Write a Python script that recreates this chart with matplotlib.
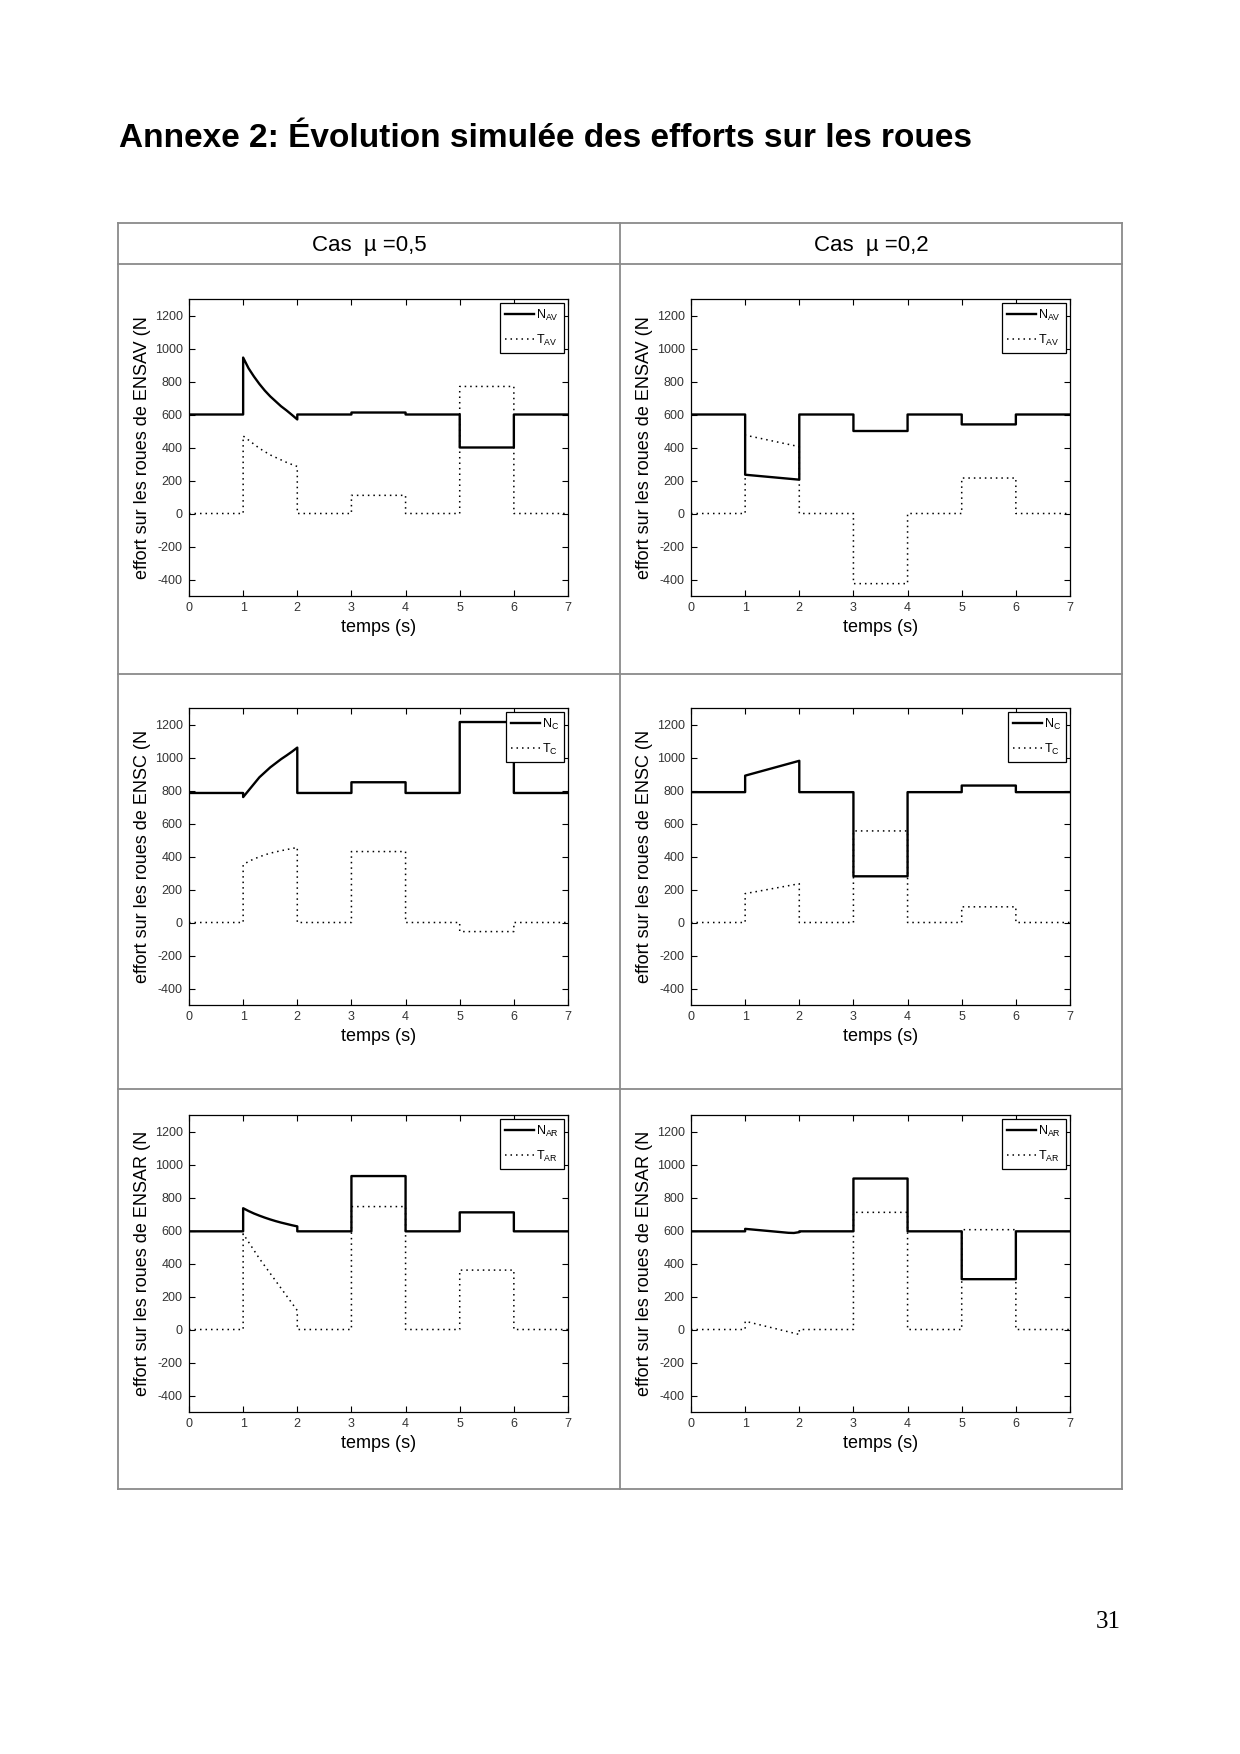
import matplotlib
matplotlib.use("Agg")
import matplotlib.pyplot as plt
from matplotlib.lines import Line2D

plt.rcParams['font.family'] = ['Liberation Sans', 'DejaVu Sans']
plt.rcParams['axes.unicode_minus'] = False

# time samples used for the transient between t=1 s and t=2 s
t_curve = [1.0, 1.1, 1.2, 1.3, 1.4, 1.5, 1.6, 1.7, 1.8, 1.9, 2.0]

# --- mu = 0,5 ---
nav_05_steps = [600, None, 600, 612, 600, 400, 600]
nav_05_curve = [945, 880, 830, 785, 745, 710, 680, 650, 625, 598, 570]
tav_05_steps = [0, None, 0, 110, 0, 770, 0]
tav_05_curve = [470, 445, 420, 395, 375, 355, 340, 325, 310, 297, 285]

nc_05_steps = [785, None, 785, 850, 785, 1215, 785]
nc_05_curve = [760, 800, 840, 880, 910, 940, 965, 990, 1012, 1035, 1060]
tc_05_steps = [0, None, 0, 430, 0, -55, 0]
tc_05_curve = [350, 370, 385, 398, 410, 420, 428, 435, 442, 448, 455]

nar_05_steps = [595, None, 595, 930, 595, 710, 595]
nar_05_curve = [735, 718, 703, 690, 678, 667, 657, 648, 640, 632, 625]
tar_05_steps = [0, None, 0, 745, 0, 360, 0]
tar_05_curve = [580, 530, 480, 430, 385, 340, 295, 250, 205, 160, 115]

# --- mu = 0,2 ---
nav_02_steps = [600, None, 600, 500, 600, 540, 600]
nav_02_curve = [235, 232, 229, 226, 223, 220, 217, 214, 211, 208, 205]
tav_02_steps = [0, None, 0, -425, 0, 215, 0]
tav_02_curve = [475, 468, 461, 454, 447, 440, 433, 426, 419, 412, 405]

nc_02_steps = [790, None, 790, 280, 790, 830, 790]
nc_02_curve = [890, 899, 908, 917, 926, 935, 944, 953, 962, 971, 980]
tc_02_steps = [0, None, 0, 555, 0, 95, 0]
tc_02_curve = [175, 181, 187, 193, 199, 205, 211, 217, 223, 229, 235]

nar_02_steps = [595, None, 595, 915, 595, 305, 595]
nar_02_curve = [610, 607, 604, 601, 598, 595, 592, 589, 586, 585, 590]
tar_02_steps = [0, None, 0, 710, 0, 605, 0]
tar_02_curve = [50, 42, 34, 26, 18, 10, 2, -6, -14, -22, -30]

y_ticks = [-400, -200, 0, 200, 400, 600, 800, 1000, 1200]
x_ticks = [0, 1, 2, 3, 4, 5, 6, 7]

panels = [
    # row, col, wheel set, subscript, N steps, N transient, T steps, T transient
    (0, 0, "ENSAV", "AV", nav_05_steps, nav_05_curve, tav_05_steps, tav_05_curve),
    (0, 1, "ENSAV", "AV", nav_02_steps, nav_02_curve, tav_02_steps, tav_02_curve),
    (1, 0, "ENSC", "C", nc_05_steps, nc_05_curve, tc_05_steps, tc_05_curve),
    (1, 1, "ENSC", "C", nc_02_steps, nc_02_curve, tc_02_steps, tc_02_curve),
    (2, 0, "ENSAR", "AR", nar_05_steps, nar_05_curve, tar_05_steps, tar_05_curve),
    (2, 1, "ENSAR", "AR", nar_02_steps, nar_02_curve, tar_02_steps, tar_02_curve),
]


def build(steps, curve):
    xs, ys = [], []
    for k, v in enumerate(steps):
        if v is None:
            xs += t_curve
            ys += curve
        else:
            xs += [k, k + 1]
            ys += [v, v]
    return xs, ys


W, H = 1240, 1754
fig = plt.figure(figsize=(W / 100, H / 100), dpi=100)


def fx(px):
    return px / W


def fy(py):
    return 1 - py / H


# page title
fig.text(fx(119), fy(147), "Annexe 2: Évolution simulée des efforts sur les roues",
         fontsize=24, fontweight='bold', ha='left', va='baseline')

# table frame
tcol = '#8a8a8a'
tlw = 1.3
for y in [223, 264, 674, 1089, 1489]:
    fig.add_artist(Line2D([fx(118), fx(1122)], [fy(y), fy(y)], color=tcol, lw=tlw))
for x in [118, 620, 1122]:
    fig.add_artist(Line2D([fx(x), fx(x)], [fy(223), fy(1489)], color=tcol, lw=tlw))

fig.text(fx(369), fy(245), "Cas  µ =0,5", fontsize=16, ha='center', va='center')
fig.text(fx(871), fy(245), "Cas  µ =0,2", fontsize=16, ha='center', va='center')

col_left = [189, 691]
row_top = [299, 708, 1115]
ax_w, ax_h = 379, 297

for row, col, ens, sub, n_steps, n_curve, t_steps, t_curve_vals in panels:
    left = col_left[col]
    top = row_top[row]
    ax = fig.add_axes([fx(left), fy(top + ax_h), ax_w / W, ax_h / H])
    xn, yn = build(n_steps, n_curve)
    xt, yt = build(t_steps, t_curve_vals)
    ax.plot(xn, yn, color='black', lw=1.7, label=r'$\mathregular{N_{%s}}$' % sub)
    ax.plot(xt, yt, color='black', lw=1.1, linestyle=(0, (1, 2.6)),
            label=r'$\mathregular{T_{%s}}$' % sub)
    ax.set_xlim(0, 7)
    ax.set_ylim(-500, 1300)
    ax.set_xticks(x_ticks)
    ax.set_yticks(y_ticks)
    ax.tick_params(direction='in', length=4, width=0.8, top=True, right=True,
                   labelsize=9, labelcolor='#333333', pad=4.5)
    for s in ax.spines.values():
        s.set_linewidth(0.9)
    ax.text(0.5, -0.105, "temps (s)", transform=ax.transAxes, ha='center', va='center',
            fontsize=13)
    ax.text(-0.124, 0.5, "effort sur les roues de %s (N" % ens, transform=ax.transAxes,
            ha='center', va='center', rotation=90, fontsize=13)
    leg = ax.legend(loc='upper right', fontsize=9, fancybox=False, framealpha=1,
                    edgecolor='black', borderaxespad=0.3, handlelength=2.3,
                    handletextpad=0.2, borderpad=0.4, labelspacing=0.8)
    leg.get_frame().set_linewidth(0.9)

fig.text(fx(1108), fy(1628), "31", fontsize=18, family=['Liberation Serif'],
         ha='center', va='baseline')

fig.savefig("out.png", dpi=100)
